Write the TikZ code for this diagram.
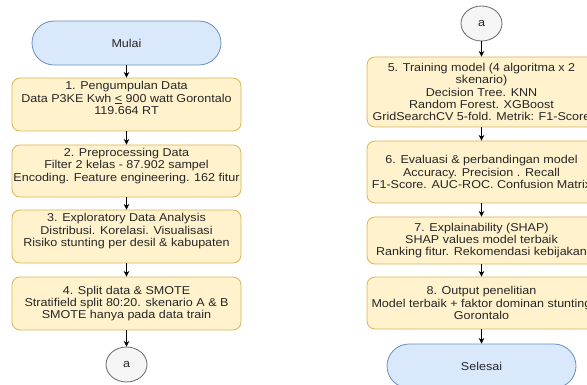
\documentclass[tikz,border=0pt]{standalone}
\usepackage{fontspec}
\setmainfont{Liberation Sans}[FakeStretch=1.1]
\usetikzlibrary{arrows.meta,shapes.geometric}
\definecolor{procfill}{HTML}{FFF2CC}
\definecolor{procdraw}{HTML}{D6B656}
\definecolor{termfill}{HTML}{DAE8FC}
\definecolor{termdraw}{HTML}{6C8EBF}
\definecolor{connfill}{HTML}{F5F5F5}
\definecolor{conndraw}{HTML}{666666}
\begin{document}
\begin{tikzpicture}[x=1pt,y=-1pt,
  every node/.style={font=\fontsize{11.4}{12.4}\selectfont, align=center, text=black!85},
  proc/.style={draw=procdraw, fill=procfill, rounded corners=8pt, line width=0.8pt,
    minimum width=229pt, inner sep=1pt},
  raised/.style={text depth=13pt},
  term/.style={draw=termdraw, fill=termfill, rounded corners=22pt, line width=0.8pt,
    minimum width=189pt, minimum height=44pt},
  conn/.style={ellipse, draw=conndraw, fill=connfill, line width=0.8pt,
    minimum width=41pt, minimum height=35pt, inner sep=0pt},
  arr/.style={-{Stealth[length=5.5pt,width=5.5pt,inset=1.5pt]}, line width=1pt, black}]
\useasboundingbox (0,0) rectangle (587,385);
\clip (0,0) rectangle (587,385);

% left column
\node[term] (start) at (126.5,43) {Mulai};
\node[proc, raised, minimum height=53pt] (s1) at (126.5,104.5)
  {1. Pengumpulan Data\\Data P3KE Kwh \underline{<} 900 watt Gorontalo\\119.664 RT};
\node[proc, raised, minimum height=52pt] (s2) at (126.5,171)
  {2. Preprocessing Data\\Filter 2 kelas - 87.902 sampel\\Encoding. Feature engineering. 162 fitur};
\node[proc, raised, minimum height=53pt] (s3) at (126.5,236.5)
  {3. Exploratory Data Analysis\\Distribusi. Korelasi. Visualisasi\\Risiko stunting per desil \& kabupaten};
\node[proc, minimum height=53pt] (s4) at (126.5,303.5)
  {4. Split data \& SMOTE\\Stratifield split 80:20. skenario A \& B\\SMOTE hanya pada data train};
\node[conn] (a1) at (126.5,364.5) {a};

% right column
\node[conn] (a2) at (481.5,23.5) {a};
\node[proc, minimum height=70pt] (s5) at (481.5,92)
  {5. Training model (4 algoritma x 2\\skenario)\\Decision Tree. KNN\\Random Forest. XGBoost\\GridSearchCV 5-fold. Metrik: F1-Score};
\node[proc, minimum height=62pt] (s6) at (481.5,172)
  {6. Evaluasi \& perbandingan model\\Accuracy. Precision . Recall\\F1-Score. AUC-ROC. Confusion Matrix};
\node[proc, minimum height=47pt] (s7) at (481.5,240.5)
  {7. Explainability (SHAP)\\SHAP values model terbaik\\Ranking fitur. Rekomendasi kebijakan};
\node[proc, minimum height=52pt] (s8) at (481.5,303)
  {8. Output penelitian\\Model terbaik + faktor dominan stunting\\Gorontalo};
\node[term] (end) at (481.5,366) {Selesai};

% connectors
\draw[arr] (start) -- (s1);
\draw[arr] (s1) -- (s2);
\draw[arr] (s2) -- (s3);
\draw[arr] (s3) -- (s4);
\draw[arr] (s4) -- (a1);
\draw[arr] (a2) -- (s5);
\draw[arr] (s5) -- (s6);
\draw[arr] (s6) -- (s7);
\draw[arr] (s7) -- (s8);
\draw[arr] (s8) -- (end);
\end{tikzpicture}
\end{document}
